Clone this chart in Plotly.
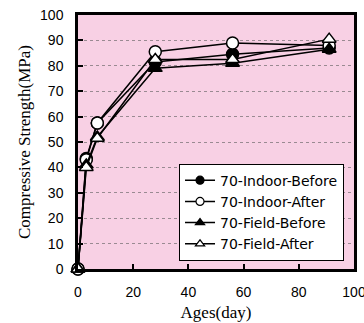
import plotly.graph_objects as go

ages = [0, 3, 7, 28, 56, 91]
indoor_before = [0, 43.5, 57.5, 81.5, 84.5, 87.0]
indoor_after = [0, 43.0, 57.5, 85.5, 89.0, 88.0]
field_before = [0, 41.0, 52.0, 79.0, 81.0, 86.5]
field_after = [0, 40.0, 51.5, 82.5, 82.5, 90.5]

names = ["70-Indoor-Before", "70-Indoor-After", "70-Field-Before", "70-Field-After"]
series = [indoor_before, indoor_after, field_before, field_after]
symbols = ["circle", "circle", "triangle-up", "triangle-up"]
fills = ["black", "white", "black", "white"]

fig = go.Figure()
for name, ys, sym, fc in zip(names, series, symbols, fills):
    fig.add_trace(go.Scatter(
        x=ages, y=ys, mode="lines+markers", showlegend=False,
        line=dict(color="black", width=1.5),
        marker=dict(symbol=sym, size=12, color=fc, line=dict(color="black", width=1.5)),
        cliponaxis=False,
    ))
for name, sym, fc in zip(names, symbols, fills):
    fig.add_trace(go.Scatter(
        x=[None], y=[None], mode="lines+markers", name=name,
        line=dict(color="black", width=1.5),
        marker=dict(symbol=sym, size=8, color=fc, line=dict(color="black", width=1.2)),
    ))

fig.update_layout(
    width=364, height=323,
    margin=dict(l=78, r=10, t=15, b=54),
    paper_bgcolor="white",
    plot_bgcolor="#F8D0E4",
    font=dict(family="Liberation Sans", size=14, color="black"),
    legend=dict(
        x=0.366, y=0.415, xanchor="left", yanchor="top",
        bgcolor="white", bordercolor="black", borderwidth=1,
        font=dict(family="DejaVu Sans", size=14),
        tracegroupgap=0, itemwidth=30,
    ),
)
fig.update_xaxes(
    range=[0, 100], tickvals=[0, 20, 40, 60, 80, 100],
    showgrid=False, zeroline=False, automargin=False,
    ticklabeloverflow="allow",
    showline=True, linecolor="black", linewidth=2.5, mirror=True,
    ticks="inside", ticklen=5, tickwidth=2, tickcolor="black",
    ticklabelstandoff=8,
    title=dict(text="Ages(day)", font=dict(family="Liberation Serif", size=17), standoff=8),
)
fig.update_yaxes(
    range=[0, 100], tickvals=list(range(0, 101, 10)),
    showgrid=True, gridcolor="#9a8a92", griddash="dot", gridwidth=1,
    zeroline=False, automargin=False,
    ticklabeloverflow="allow",
    showline=True, linecolor="black", linewidth=2.5, mirror=True,
    ticks="inside", ticklen=5, tickwidth=2, tickcolor="black",
    ticklabelstandoff=9,
    title=dict(text="Compressive Strength(MPa)", font=dict(family="Liberation Serif", size=17), standoff=6),
)

fig.write_html("out.html")
